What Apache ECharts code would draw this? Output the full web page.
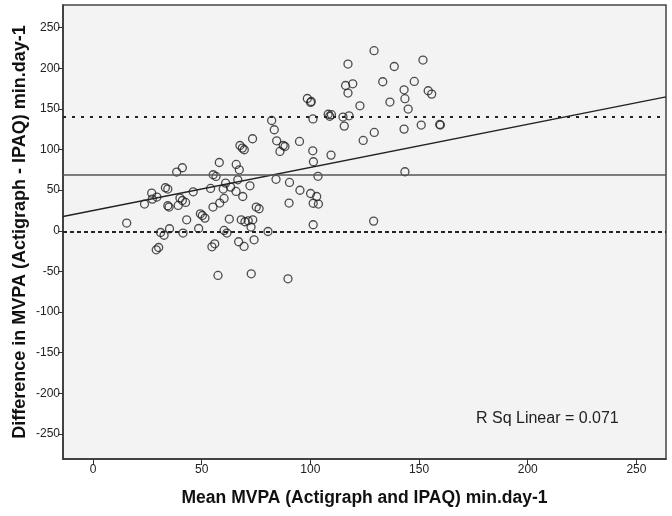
<!DOCTYPE html>
<html>
<head>
<meta charset="utf-8">
<script src="https://cdn.jsdelivr.net/npm/echarts@6/dist/echarts.min.js"></script>
<style>
html,body{margin:0;padding:0;background:#fff;}
#c{width:672px;height:516px;}
</style>
</head>
<body>
<div id="c"></div>
<script>
// Mean of the two methods (x) and difference (y)
const meanX = [15.5,23.7,27.0,27.3,29.4,29.1,30.2,31.1,32.7,33.3,34.4,34.4,35.0,35.2,38.5,41.1,39.2,40.0,41.1,42.6,
41.4,43.1,46.1,48.6,49.4,50.3,51.5,54.1,55.2,54.7,56.0,55.3,56.6,57.5,58.1,58.3,60.3,59.9,61.0,60.3,
61.6,62.7,63.3,65.8,65.9,67.3,66.6,67.0,68.2,68.9,69.5,69.9,71.4,72.2,72.8,72.7,73.5,74.1,75.1,76.4,
67.6,68.7,69.6,73.4,80.5,84.5,82.2,83.4,87.5,88.3,86.0,84.2,90.4,89.7,90.2,95.0,95.2,100.1,102.9,101.3,
103.7,101.3,101.1,101.4,109.5,103.5,101.2,98.6,100.4,100.1,108.2,109.7,108.9,115.0,117.8,115.6,122.8,124.3,116.2,119.5,
117.3,117.3,129.3,129.4,129.1,133.3,136.6,138.6,143.1,143.5,143.1,143.5,145.0,147.8,151.0,151.8,154.2,155.8,159.5,159.8];
const diffY = [9.5,32.9,46.4,39.0,41.5,-23.4,-20.6,-2.1,-5.5,53.0,51.4,30.8,29.2,2.5,72.3,77.6,31.2,40.3,37.3,34.9,
-2.8,13.5,48.0,2.8,20.9,18.8,15.6,52.1,29.2,-19.7,-16.0,69.0,66.9,-55.0,84.1,34.1,39.8,51.4,58.7,0.4,
-2.8,14.4,53.8,48.4,81.7,75.1,62.8,-13.5,13.5,42.2,-19.3,11.1,12.3,55.4,-53.0,4.6,13.5,-11.1,29.2,27.1,
105.0,101.8,99.8,113.3,-0.9,110.8,135.8,124.4,105.0,103.8,97.7,63.4,59.5,-59.1,34.1,110.0,49.9,45.9,42.2,33.9,
32.9,7.4,98.5,85.0,93.2,67.1,137.7,162.9,159.2,158.0,143.5,142.9,141.0,140.0,141.6,128.9,153.9,111.2,178.9,181.0,
169.6,205.3,221.7,121.1,11.9,183.5,158.5,202.3,173.6,162.6,125.2,72.7,149.9,183.9,130.2,210.2,172.4,168.3,130.9,130.2];

// Reference lines (mean difference and limits of agreement)
const refLines = [69.0, 140.4, -1.6];
// Linear fit: intercept, slope
const fitLine = [24.9, 0.531];
const rSqText = ['R Sq Linear = 0.071'];

// Axis ranges and tick labels
const xRange = [-13.8, 263.6];
const yRange = [-281, 278];
const xTicks = [0, 50, 100, 150, 200, 250];
const yTicks = [-250, -200, -150, -100, -50, 0, 50, 100, 150, 200, 250];

const pts = meanX.map((x, i) => [x, diffY[i]]);
const fitPts = [[xRange[0], fitLine[0] + fitLine[1] * xRange[0]], [xRange[1], fitLine[0] + fitLine[1] * xRange[1]]];

const FONT = 'Liberation Sans, Arial, sans-serif';
const chart = echarts.init(document.getElementById('c'), null, {renderer: 'canvas'});
chart.setOption({
  animation: false,
  backgroundColor: '#ffffff',
  grid: {left: 63, right: 6, top: 5, bottom: 57, show: true, backgroundColor: '#f3f3f3', borderColor: '#444', borderWidth: 1.5},
  xAxis: {
    type: 'value', min: xRange[0], max: xRange[1],
    name: 'Mean MVPA (Actigraph and IPAQ) min.day-1', nameLocation: 'middle', nameGap: 30, nameMoveOverlap: false,
    nameTextStyle: {fontFamily: FONT, fontSize: 17.5, fontWeight: 'bold', color: '#111'},
    axisLine: {show: true, onZero: false, lineStyle: {color: '#333', width: 1.5}},
    axisTick: {show: true, length: 6, customValues: xTicks, lineStyle: {color: '#333'}},
    axisLabel: {customValues: xTicks, margin: 5, fontFamily: FONT, fontSize: 12, color: '#222'},
    splitLine: {show: false}
  },
  yAxis: {
    type: 'value', min: yRange[0], max: yRange[1],
    name: 'Difference in MVPA (Actigraph - IPAQ) min.day-1', nameLocation: 'middle', nameGap: 34, nameRotate: 90, nameMoveOverlap: false,
    nameTextStyle: {fontFamily: FONT, fontSize: 18, fontWeight: 'bold', color: '#111'},
    axisLine: {show: true, onZero: false, lineStyle: {color: '#333', width: 1.5}},
    axisTick: {show: true, length: 5, customValues: yTicks, lineStyle: {color: '#333'}},
    axisLabel: {customValues: yTicks, margin: 3, fontFamily: FONT, fontSize: 12, color: '#222'},
    splitLine: {show: false}
  },
  series: [
    {
      type: 'line', data: fitPts, symbol: 'none', silent: true, z: 2,
      lineStyle: {color: '#222', width: 1.3},
      markLine: {
        silent: true, symbol: 'none', label: {show: false},
        data: [
          {yAxis: refLines[0], lineStyle: {color: '#555', width: 1.6, type: 'solid'}},
          {yAxis: refLines[1], lineStyle: {color: '#222', width: 2.2, type: [3, 6]}},
          {yAxis: refLines[2], lineStyle: {color: '#222', width: 2, type: [4, 3]}}
        ]
      }
    },
    {
      type: 'scatter', data: pts, symbol: 'circle', symbolSize: 8, z: 3,
      itemStyle: {color: 'rgba(0,0,0,0)', borderColor: '#222', borderWidth: 1.3}
    }
  ],
  graphic: [{
    type: 'text', left: 476, top: 411,
    style: {text: rSqText[0], font: '16px ' + FONT, fill: '#222'}
  }]
});
</script>
</body>
</html>
